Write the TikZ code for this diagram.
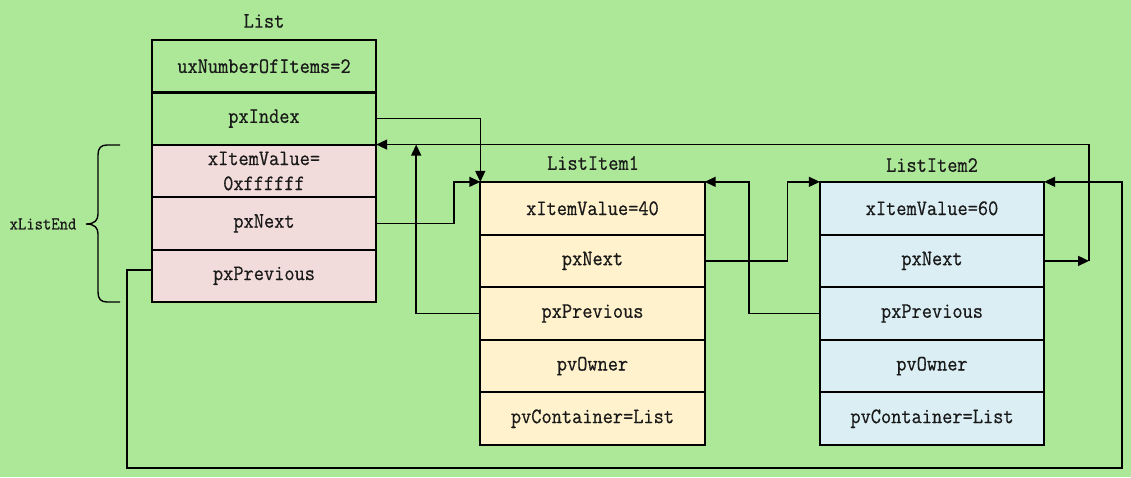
\documentclass[tikz,border=0pt]{standalone}
\usepackage{fontspec}
\setmonofont[FakeStretch=0.9, FakeBold=0.6]{Latin Modern Mono}
\usetikzlibrary{arrows.meta}
\definecolor{bg}{RGB}{173,232,152}
\definecolor{pinkc}{RGB}{242,220,219}
\definecolor{yelc}{RGB}{255,242,204}
\definecolor{bluec}{RGB}{218,238,243}
\begin{document}
\begin{tikzpicture}[x=1pt,y=-1pt,
  cell/.style={minimum width=224pt, minimum height=52.5pt, inner sep=0pt,
    font=\ttfamily\fontsize{22}{25}\selectfont, text=black!90, align=center},
  title/.style={font=\ttfamily\fontsize{22}{25}\selectfont, text=black!90},
  frame/.style={line width=1.7pt},
  conn/.style={line width=1.5pt, -{Triangle[length=11pt,width=10pt]}}]
\fill[bg] (0,0) rectangle (1131,477);
\useasboundingbox (0,0) rectangle (1131,477);
% List
\node[title] (tL) at (264,21) {List};
\node[cell, fill=bg] (L1) at (264,66.2) {uxNumberOfItems=2};
\node[cell, fill=bg] (L2) at (264,118.6) {pxIndex};
\node[cell, fill=pinkc] (L3) at (264,171.0) {xItemValue=\\0xffffff};
\node[cell, fill=pinkc] (L4) at (264,223.4) {pxNext};
\node[cell, fill=pinkc] (L5) at (264,275.8) {pxPrevious};
% ListItem1
\node[title] (tA) at (593,163) {ListItem1};
\node[cell, fill=yelc] (A1) at (592.5,208.3) {xItemValue=40};
\node[cell, fill=yelc] (A2) at (592.5,260.9) {pxNext};
\node[cell, fill=yelc] (A3) at (592.5,313.5) {pxPrevious};
\node[cell, fill=yelc] (A4) at (592.5,366.1) {pvOwner};
\node[cell, fill=yelc] (A5) at (592.5,418.7) {pvContainer=List};
% ListItem2
\node[title] (tB) at (932,165) {ListItem2};
\node[cell, fill=bluec] (B1) at (932,208.3) {xItemValue=60};
\node[cell, fill=bluec] (B2) at (932,260.9) {pxNext};
\node[cell, fill=bluec] (B3) at (932,313.5) {pxPrevious};
\node[cell, fill=bluec] (B4) at (932,366.1) {pvOwner};
\node[cell, fill=bluec] (B5) at (932,418.7) {pvContainer=List};
% cell borders
\foreach \n in {L1,L2,L3,L4,L5,A1,A2,A3,A4,A5,B1,B2,B3,B4,B5}
  \draw[frame] (\n.north west) rectangle (\n.south east);
% brace
\draw[line width=1.4pt] (120,145) -- (107,145) .. controls (101,145) and (98,148) .. (98,155)
  -- (98,214) .. controls (98,220) and (95,224) .. (86,224)
  .. controls (95,224) and (98,228) .. (98,234)
  -- (98,292) .. controls (98,299) and (101,302) .. (107,302) -- (120,302);
\node[font=\ttfamily\fontsize{18}{20}\selectfont, text=black!90] (xle) at (43,224) {xListEnd};
% connectors
\coordinate (j) at (1089,260.9);
\coordinate (bl) at (127,468);
\coordinate (br) at (1122,468);
\draw[conn] (L2.east) -| (A1.north west);
\draw[conn] (L4.east) -- ++(78,0) |- (A1.north west);
\draw[conn] (A3.west) -| ([xshift=40pt]L3.north east);
\draw[conn] (B2.east) -- (j);
\draw[conn] (j) |- (L3.north east);
\draw[conn] (B3.west) -- ++(-71,0) |- (A1.north east);
\draw[conn] (A2.east) -- ++(83,0) |- (B1.north west);
\draw[conn] ([yshift=6pt]L5.west) -| (bl) -- (br) |- (B1.north east);
\end{tikzpicture}
\end{document}
